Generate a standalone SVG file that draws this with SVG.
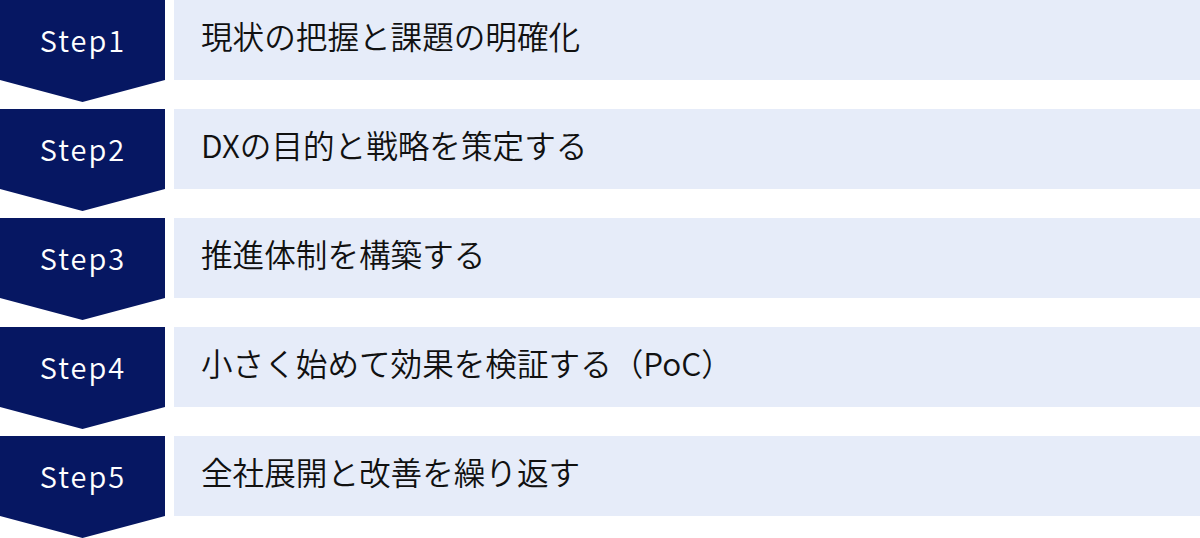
<svg xmlns="http://www.w3.org/2000/svg" width="1200" height="538" viewBox="0 0 1200 538">
<style>
.badge{fill:#061762}
.bar{fill:#e6ecf9}
.step{font-family:"Noto Sans CJK JP","Noto Sans",sans-serif;font-size:29px;font-weight:350;fill:#ffffff;letter-spacing:2px;text-anchor:middle}
.label{font-family:"Noto Sans CJK JP","Noto Sans",sans-serif;font-size:31.6px;font-weight:350;fill:#111111}
</style>
<g id="step1">
<polygon class="badge" points="0,0 165,0 165,80 82.5,102 0,80"/>
<rect class="bar" x="174" y="0" width="1026" height="80"/>
<text class="step" x="83" y="52">Step1</text>
<text class="label" x="201" y="49">現状の把握と課題の明確化</text>
</g>
<g id="step2">
<polygon class="badge" points="0,109 165,109 165,189 82.5,211 0,189"/>
<rect class="bar" x="174" y="109" width="1026" height="80"/>
<text class="step" x="83" y="161">Step2</text>
<text class="label" x="201" y="158">DXの目的と戦略を策定する</text>
</g>
<g id="step3">
<polygon class="badge" points="0,218 165,218 165,298 82.5,320 0,298"/>
<rect class="bar" x="174" y="218" width="1026" height="80"/>
<text class="step" x="83" y="270">Step3</text>
<text class="label" x="201" y="267">推進体制を構築する</text>
</g>
<g id="step4">
<polygon class="badge" points="0,327 165,327 165,407 82.5,429 0,407"/>
<rect class="bar" x="174" y="327" width="1026" height="80"/>
<text class="step" x="83" y="379">Step4</text>
<text class="label" x="201" y="376">小さく始めて効果を検証する（PoC）</text>
</g>
<g id="step5">
<polygon class="badge" points="0,436 165,436 165,516 82.5,538 0,516"/>
<rect class="bar" x="174" y="436" width="1026" height="80"/>
<text class="step" x="83" y="488">Step5</text>
<text class="label" x="201" y="485">全社展開と改善を繰り返す</text>
</g>
<g id="connectors"/>
</svg>
